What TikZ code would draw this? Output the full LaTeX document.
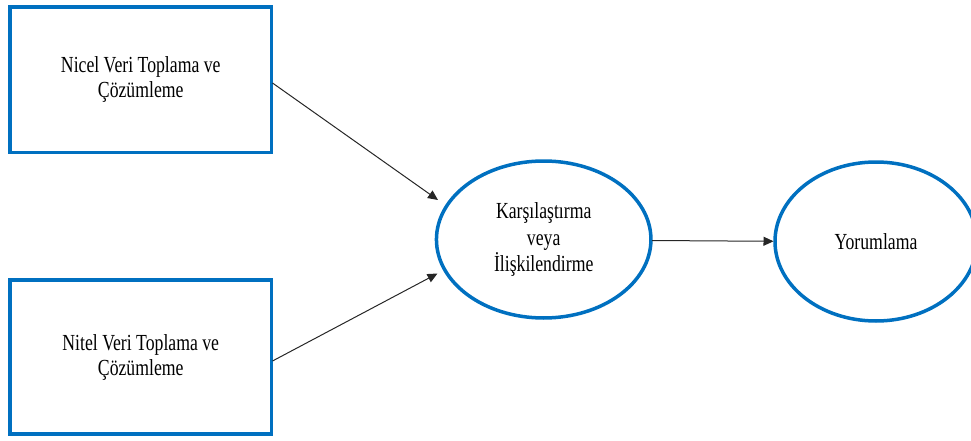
\documentclass[tikz,border=0pt]{standalone}
\usepackage{fontspec}
\setmainfont[FakeStretch=0.77]{Liberation Serif}
\usetikzlibrary{shapes.geometric,arrows.meta}
\definecolor{wordblue}{RGB}{0,112,192}
\tikzset{
  stagebox/.style={draw=wordblue, line width=3.5pt, rectangle, minimum width=261.5pt, minimum height=145.5pt, align=center, font=\fontsize{23}{25}\selectfont, inner sep=0pt},
  stageoval/.style={draw=wordblue, line width=3.5pt, ellipse, align=center, font=\fontsize{23}{26.5}\selectfont, inner sep=0pt},
  flow/.style={draw=black!85, line width=1pt, -{Triangle[length=10pt,width=9pt]}}
}
\begin{document}
\begin{tikzpicture}[x=1pt,y=-1pt]
\clip (0,0) rectangle (971,441);
\node[stagebox] (nicel) at (140.75,79.75) {Nicel Veri Toplama ve\\Çözümleme};
\node[stagebox, minimum height=154pt] (nitel) at (140.75,357) {Nitel Veri Toplama ve\\Çözümleme};
\node[stageoval, minimum width=214.5pt, minimum height=157pt] (karsi) at (543.7,239.5) {Karşılaştırma\\veya\\İlişkilendirme};
\node[stageoval, minimum width=202pt, minimum height=159pt] (yorum) at (876,241.5) {Yorumlama};
\coordinate (t1) at (438,200);
\coordinate (t2) at (437.5,273.5);
\coordinate (t3) at (773.5,241.3);
\coordinate (s1) at (272.5,83);
\coordinate (s2) at (272.5,361);
\coordinate (s3) at (652,240.5);
\draw[flow] (s1) -- (t1);
\draw[flow] (s2) -- (t2);
\draw[flow] (s3) -- (t3);
\end{tikzpicture}
\end{document}
